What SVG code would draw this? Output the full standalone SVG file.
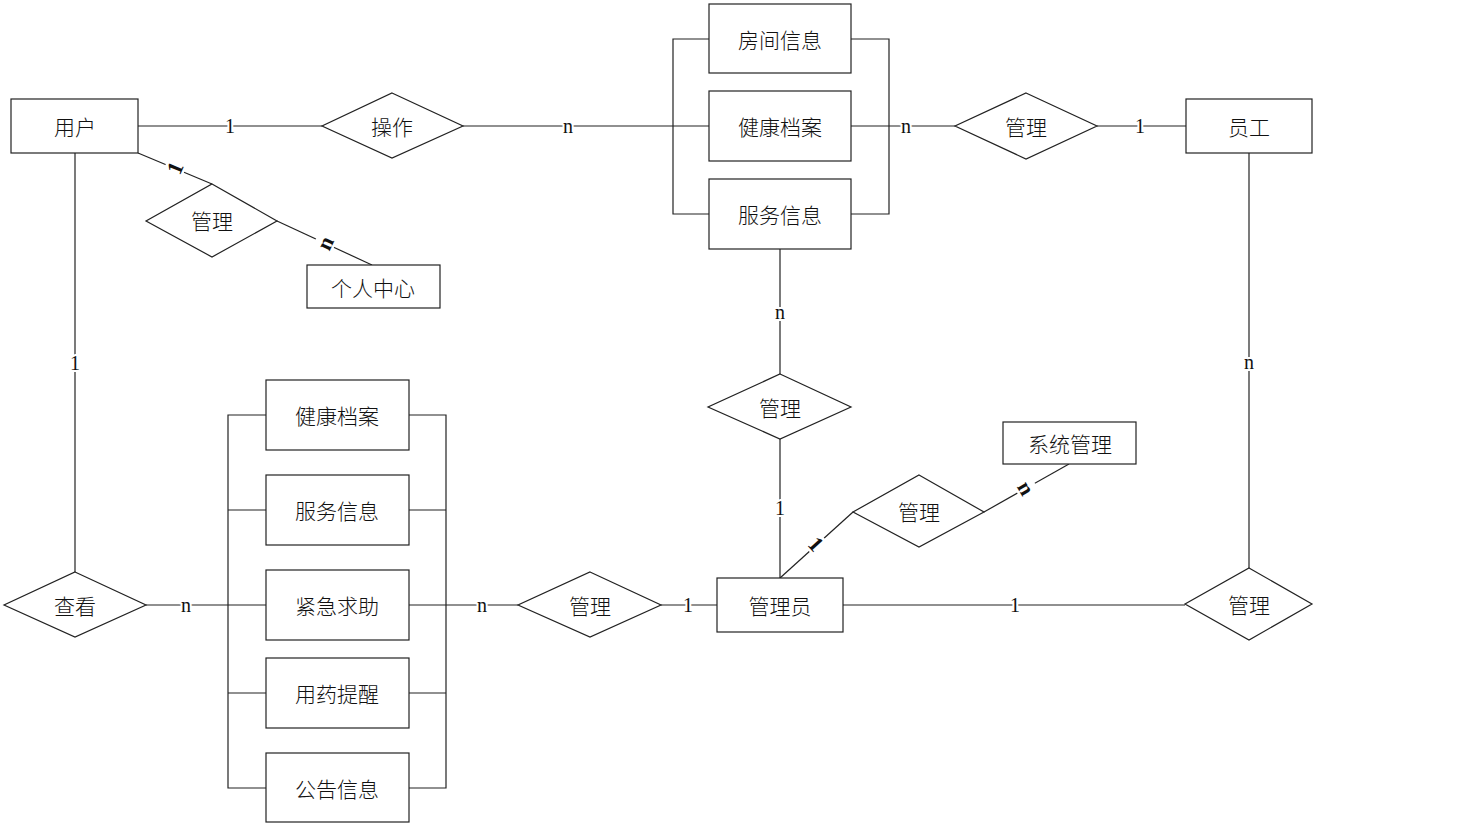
<svg xmlns="http://www.w3.org/2000/svg" width="1457" height="823" viewBox="0 0 1457 823">
<style>
.box{fill:#fff;stroke:#222;stroke-width:1.2}
.dia{fill:#fff;stroke:#222;stroke-width:1.2}
.ln{fill:none;stroke:#222;stroke-width:1.2}
.t{font-family:"Noto Sans CJK SC","Noto Sans",sans-serif;font-size:21px;font-weight:300;fill:#111;text-anchor:middle;dominant-baseline:central}
.lb{font-family:"Liberation Serif",serif;font-size:20px;fill:#111;text-anchor:middle;dominant-baseline:central;stroke:#fff;stroke-width:4;paint-order:stroke}
.rl{font-family:"Liberation Serif",serif;font-size:22px;font-weight:bold;fill:#111;text-anchor:middle;dominant-baseline:central}
</style>
<rect width="1457" height="823" fill="#fff"/>
<g id="connectors">
<line class="ln" x1="138" y1="126" x2="322" y2="126"/>
<line class="ln" x1="463" y1="126" x2="709" y2="126"/>
<path class="ln" d="M709,39 H673 V214 H709"/>
<path class="ln" d="M851,39 H889 V214 H851"/>
<line class="ln" x1="851" y1="126" x2="955" y2="126"/>
<line class="ln" x1="1097" y1="126" x2="1186" y2="126"/>
<line class="ln" x1="138" y1="153" x2="212" y2="184"/>
<line class="ln" x1="277" y1="221" x2="372" y2="265"/>
<line class="ln" x1="75" y1="153" x2="75" y2="572"/>
<line class="ln" x1="780" y1="249" x2="780" y2="374"/>
<line class="ln" x1="780" y1="439" x2="780" y2="578"/>
<line class="ln" x1="780" y1="578" x2="853" y2="512"/>
<line class="ln" x1="984" y1="512" x2="1069" y2="464"/>
<line class="ln" x1="1249" y1="153" x2="1249" y2="568"/>
<line class="ln" x1="843" y1="605" x2="1185" y2="605"/>
<line class="ln" x1="661" y1="605" x2="717" y2="605"/>
<line class="ln" x1="146" y1="605" x2="266" y2="605"/>
<line class="ln" x1="409" y1="605" x2="518" y2="605"/>
<path class="ln" d="M266,415 H228 V788 H266"/>
<path class="ln" d="M409,415 H446 V788 H409"/>
<line class="ln" x1="228" y1="510" x2="266" y2="510"/>
<line class="ln" x1="228" y1="693" x2="266" y2="693"/>
<line class="ln" x1="409" y1="510" x2="446" y2="510"/>
<line class="ln" x1="409" y1="693" x2="446" y2="693"/>
<text class="lb" x="230" y="126">1</text>
<text class="lb" x="568" y="126">n</text>
<text class="lb" x="906" y="126">n</text>
<text class="lb" x="1140" y="126">1</text>
<text class="lb" x="75" y="363">1</text>
<text class="lb" x="780" y="312">n</text>
<text class="lb" x="780" y="508">1</text>
<text class="lb" x="1249" y="362">n</text>
<text class="lb" x="1015" y="605">1</text>
<text class="lb" x="688" y="605">1</text>
<text class="lb" x="482" y="605">n</text>
<text class="lb" x="186" y="605">n</text>
<rect x="165" y="160" width="20" height="16" fill="#fff" transform="rotate(23 175 168)"/>
<text class="rl" transform="translate(175,168) rotate(-67)">1</text>
<rect x="315" y="235" width="20" height="16" fill="#fff" transform="rotate(25 325 243)"/>
<text class="rl" transform="translate(325,243) rotate(-65)">n</text>
<rect x="806" y="536" width="20" height="16" fill="#fff" transform="rotate(-42 816 544)"/>
<text class="rl" transform="translate(816,544) rotate(48)">1</text>
<rect x="1016" y="480" width="20" height="16" fill="#fff" transform="rotate(-30 1026 488)"/>
<text class="rl" transform="translate(1026,488) rotate(60)">n</text>
</g>
<g id="yonghu"><rect class="box" x="11" y="99" width="127" height="54"/><text class="t" x="75" y="126">用户</text></g>
<g id="caozuo"><polygon class="dia" points="392,93 463,126 392,158 322,126"/><text class="t" x="392" y="126">操作</text></g>
<g id="guanli-user"><polygon class="dia" points="212,184 277,221 212,257 146,221"/><text class="t" x="212" y="220">管理</text></g>
<g id="gerenzhongxin"><rect class="box" x="307" y="265" width="133" height="43"/><text class="t" x="373" y="287">个人中心</text></g>
<g id="fangjianxinxi"><rect class="box" x="709" y="4" width="142" height="69"/><text class="t" x="780" y="39">房间信息</text></g>
<g id="jiankangdangan-top"><rect class="box" x="709" y="91" width="142" height="70"/><text class="t" x="780" y="126">健康档案</text></g>
<g id="fuwuxinxi-top"><rect class="box" x="709" y="179" width="142" height="70"/><text class="t" x="780" y="214">服务信息</text></g>
<g id="guanli-yuangong"><polygon class="dia" points="1026,93 1097,126 1026,159 955,126"/><text class="t" x="1026" y="126">管理</text></g>
<g id="yuangong"><rect class="box" x="1186" y="99" width="126" height="54"/><text class="t" x="1249" y="126">员工</text></g>
<g id="guanli-mid"><polygon class="dia" points="780,374 851,407 780,439 708,407"/><text class="t" x="780" y="407">管理</text></g>
<g id="guanli-sys"><polygon class="dia" points="919,475 984,512 919,547 853,512"/><text class="t" x="919" y="511">管理</text></g>
<g id="xitongguanli"><rect class="box" x="1003" y="422" width="133" height="42"/><text class="t" x="1070" y="443">系统管理</text></g>
<g id="guanliyuan"><rect class="box" x="717" y="578" width="126" height="54"/><text class="t" x="780" y="605">管理员</text></g>
<g id="guanli-br"><polygon class="dia" points="1249,568 1312,604 1249,640 1185,604"/><text class="t" x="1249" y="604">管理</text></g>
<g id="guanli-bm"><polygon class="dia" points="590,572 661,605 590,637 518,605"/><text class="t" x="590" y="605">管理</text></g>
<g id="chakan"><polygon class="dia" points="75,572 146,605 75,637 4,605"/><text class="t" x="75" y="605">查看</text></g>
<g id="jiankangdangan"><rect class="box" x="266" y="380" width="143" height="70"/><text class="t" x="337" y="415">健康档案</text></g>
<g id="fuwuxinxi"><rect class="box" x="266" y="475" width="143" height="70"/><text class="t" x="337" y="510">服务信息</text></g>
<g id="jinjiqiuzhu"><rect class="box" x="266" y="570" width="143" height="70"/><text class="t" x="337" y="605">紧急求助</text></g>
<g id="yongyaotixing"><rect class="box" x="266" y="658" width="143" height="70"/><text class="t" x="337" y="693">用药提醒</text></g>
<g id="gonggaoxinxi"><rect class="box" x="266" y="753" width="143" height="69"/><text class="t" x="337" y="788">公告信息</text></g>
</svg>
